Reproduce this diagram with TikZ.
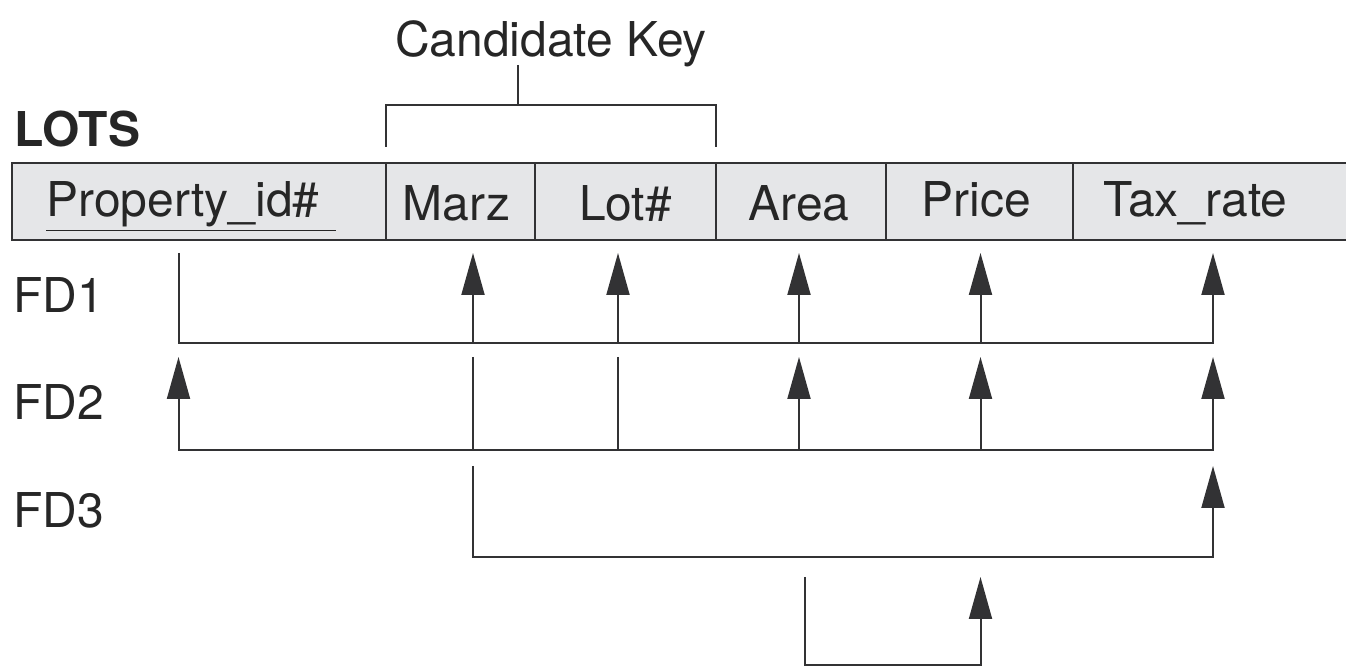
\documentclass[tikz,border=0pt]{standalone}
\usepackage{fontspec}
\setmainfont{TeX Gyre Heros}
\usetikzlibrary{arrows.meta}
\usetikzlibrary{calc}

\definecolor{cellgray}{RGB}{229,230,232}
\definecolor{linegray}{RGB}{50,50,52}

\tikzset{
	cell/.style={draw=linegray,fill=cellgray,line width=1.2pt,anchor=north west,outer sep=0pt,
		minimum height=38.5pt,inner sep=0pt,text height=19.5pt,text depth=0pt},
	highcell/.style={cell,text height=15.5pt},
	fd/.style={draw=linegray,line width=1pt},
	fdarrow/.style={fd,-{Triangle[length=21pt,width=11.5pt]}},
	fdboth/.style={fd,{Triangle[length=21pt,width=11.5pt]}-{Triangle[length=21pt,width=11.5pt]}},
	lbl/.style={anchor=base west,inner sep=0pt},
}

\begin{document}
\begin{tikzpicture}[x=0.5pt,y=-0.5pt,font=\fontsize{24}{28}\selectfont,text=black!85]
	\useasboundingbox (0,0) rectangle (1346,667);

	% the relation
	\node[lbl] (lots) at (14,147) {\bfseries LOTS};
	\node[highcell,minimum width=187pt] (pid) at (12,163)
		{\underline{Property\_id\#\hspace*{8pt}}\hspace*{8pt}};
	\node[cell,minimum width=74.5pt] (marz) at (pid.north east) {Marz\hspace*{4pt}};
	\node[cell,minimum width=90.5pt] (lot) at (marz.north east) {Lot\#};
	\node[cell,minimum width=85pt] (area) at (lot.north east) {Area\hspace*{2pt}};
	\node[highcell,minimum width=93.5pt] (price) at (area.north east) {Price\hspace*{3pt}};
	\node[highcell,minimum width=141.5pt] (tax) at (price.north east) {Tax\_rate\hspace*{19pt}};

	% key bracket
	\node[anchor=base,inner sep=0pt] (ckey) at (551,57) {Candidate Key};
	\coordinate (kl) at ($(marz.north west)+(0,-16)$);
	\coordinate (kr) at ($(lot.north east)+(0,-16)$);
	\coordinate (kstem) at ($(kl)!0.4!(kr)$);
	\draw[fd] (kl) -- (kl |- 0,105) -- (kr |- 0,105) -- (kr);
	\draw[fd] (kstem |- 0,65) -- (kstem |- 0,105);

	% columns and rows of the dependencies
	\coordinate (xpid) at (178.5,0);
	\coordinate (xmarz) at (473,0);
	\coordinate (xlot) at (618,0);
	\coordinate (xarea) at (799,0);
	\coordinate (xprice) at (980.5,0);
	\coordinate (xtax) at (1213,0);
	\coordinate (xleft) at (805,0);
	\coordinate (t1) at (0,253); \coordinate (b1) at (0,343);
	\coordinate (t2) at (0,357); \coordinate (b2) at (0,450);
	\coordinate (t3) at (0,466); \coordinate (b3) at (0,557);
	\coordinate (t4) at (0,577); \coordinate (b4) at (0,665);

	\node[lbl] (fd1) at (13,313) {FD1};
	\node[lbl] (fd2) at (13,420) {FD2};
	\node[lbl] (fd3) at (13,528) {FD3};

	% FD1
	\draw[fdarrow] (xpid |- t1) -- (xpid |- b1) -- (xtax |- b1) -- (xtax |- t1);
	\foreach \c in {xmarz,xlot,xarea,xprice}
		\draw[fdarrow] (\c |- b1) -- (\c |- t1);

	% FD2
	\draw[fdboth] (xpid |- t2) -- (xpid |- b2) -- (xtax |- b2) -- (xtax |- t2);
	\foreach \c in {xmarz,xlot}
		\draw[fd] (\c |- t2) -- (\c |- b2);
	\foreach \c in {xarea,xprice}
		\draw[fdarrow] (\c |- b2) -- (\c |- t2);

	% FD3
	\draw[fdarrow] (xmarz |- t3) -- (xmarz |- b3) -- (xtax |- b3) -- (xtax |- t3);

	% FD4
	\draw[fdarrow] (xleft |- t4) -- (xleft |- b4) -- (xprice |- b4) -- (xprice |- t4);
\end{tikzpicture}
\end{document}
